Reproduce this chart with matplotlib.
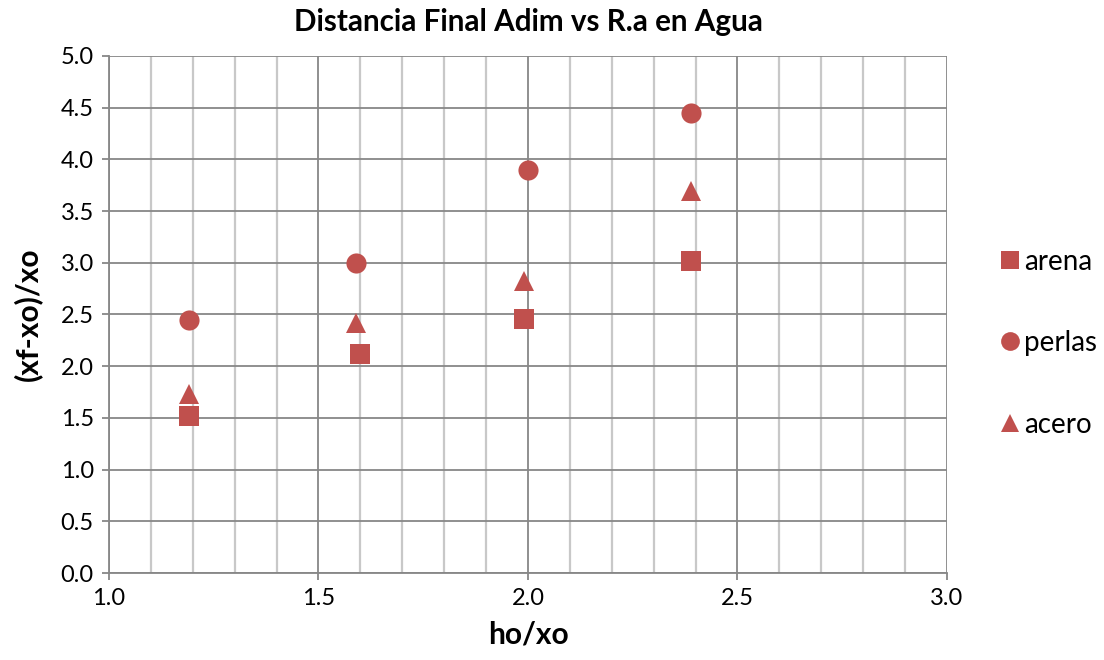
import matplotlib
matplotlib.use("Agg")
import matplotlib.pyplot as plt
from matplotlib.ticker import MultipleLocator, FormatStrFormatter
from matplotlib.lines import Line2D

plt.rcParams['font.family'] = ['Lato', 'DejaVu Sans']

# Data series
arena_x = [1.19, 1.60, 1.99, 2.39]
arena_y = [1.52, 2.12, 2.46, 3.02]
perlas_x = [1.19, 1.59, 2.00, 2.39]
perlas_y = [2.45, 3.00, 3.90, 4.45]
acero_x = [1.19, 1.59, 1.99, 2.39]
acero_y = [1.73, 2.42, 2.82, 3.69]

series_names = ["arena", "perlas", "acero"]
markers = ["s", "o", "^"]
color = "#C0504D"

fig = plt.figure(figsize=(11.04, 6.6), dpi=100)
ax = fig.add_axes([0.0987, 0.1318, 0.7591, 0.7834])

ax.set_xlim(1.0, 3.0)
ax.set_ylim(0.0, 5.0)
ax.xaxis.set_major_locator(MultipleLocator(0.5))
ax.xaxis.set_minor_locator(MultipleLocator(0.1))
ax.yaxis.set_major_locator(MultipleLocator(0.5))
ax.xaxis.set_major_formatter(FormatStrFormatter("%.1f"))
ax.yaxis.set_major_formatter(FormatStrFormatter("%.1f"))

ax.grid(which="minor", axis="x", color="#C8C8C8", linewidth=1.6, zorder=0)
ax.grid(which="major", axis="x", color="#878787", linewidth=1.3, zorder=0.5)
ax.grid(which="major", axis="y", color="#878787", linewidth=1.3, zorder=0.5)

for s in ["top", "right"]:
    ax.spines[s].set_visible(False)
for s in ["left", "bottom"]:
    ax.spines[s].set_color("#878787")
    ax.spines[s].set_linewidth(1.3)

ax.tick_params(axis="both", which="major", direction="out", length=5,
               color="#878787", width=1.3, labelsize=17, pad=6)
ax.tick_params(axis="x", which="minor", length=0)

data = [(arena_x, arena_y), (perlas_x, perlas_y), (acero_x, acero_y)]
for (xs, ys), name, m in zip(data, series_names, markers):
    ax.plot(xs, ys, linestyle="none", marker=m, markersize=14.5,
            color=color, markeredgewidth=0, label=name, zorder=3,
            clip_on=False)

ax.set_title("Distancia Final Adim vs R.a en Agua", fontsize=21.3,
             fontweight="bold", pad=18)
ax.set_xlabel("ho/xo", fontsize=21.5, fontweight="bold", labelpad=8)
ax.set_ylabel("(xf-xo)/xo", fontsize=21.5, fontweight="bold", labelpad=13)

handles = [Line2D([], [], linestyle="none", marker=m, markersize=13.5,
                  color=color, markeredgewidth=0) for m in markers]
fig.legend(handles, series_names, loc="center left",
           bbox_to_anchor=(0.892, 0.48), frameon=False, fontsize=20,
           handletextpad=0.0, handlelength=1.0, labelspacing=2.0,
           borderaxespad=0)

fig.savefig("out.png", dpi=100)
